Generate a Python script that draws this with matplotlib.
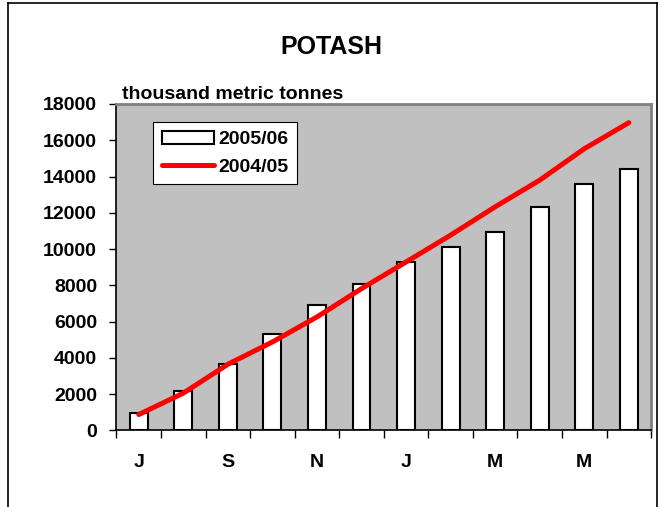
import numpy as np
import matplotlib.pyplot as plt
from matplotlib.lines import Line2D

months = ["J", "", "S", "", "N", "", "J", "", "M", "", "M", ""]
potash_0506 = [980, 2170, 3640, 5300, 6940, 8060, 9270, 10130, 10930, 12330, 13580, 14400]
potash_0405 = [880, 2060, 3650, 4880, 6260, 7820, 9290, 10770, 12330, 13800, 15530, 16970]

plt.rcParams['font.family'] = ['Liberation Sans', 'DejaVu Sans']
plt.rcParams['font.weight'] = 'bold'

fig = plt.figure(figsize=(6.63, 5.07), dpi=100)
ax = fig.add_axes([0.1757, 0.1509, 0.8063, 0.644])
ax.set_facecolor('#c0c0c0')

x = np.arange(len(months))
bars = ax.bar(x, potash_0506, width=0.4, color='white', edgecolor='black', linewidth=1.5, label='2005/06', zorder=2)
line, = ax.plot(x, potash_0405, color='#ff0000', linewidth=3.6, solid_capstyle='round', label='2004/05', zorder=3)

ax.set_xlim(-0.5, 11.5)
ax.set_ylim(0, 18000)
ax.set_yticks(np.arange(0, 18001, 2000))
ax.tick_params(axis='y', direction='out', length=5, width=1, pad=9, labelsize=14)

# month labels at bar centres, ticks at the category boundaries
ax.set_xticks(np.arange(-0.5, 12, 1))
ax.set_xticklabels([])
ax.set_xticks(x, minor=True)
ax.set_xticklabels(months, minor=True)
ax.tick_params(axis='x', which='major', direction='out', length=6, width=1)
ax.tick_params(axis='x', which='minor', length=0, pad=17, labelsize=14)

for s in ['top', 'right']:
    ax.spines[s].set_color('#808080')
    ax.spines[s].set_linewidth(2)
for s in ['left', 'bottom']:
    ax.spines[s].set_color('black')
    ax.spines[s].set_linewidth(1.2)

fig.text(0.5, 0.907, "POTASH", ha='center', va='center', fontsize=18, fontweight='bold')
fig.text(0.184, 0.797, "thousand metric tonnes", ha='left', va='bottom', fontsize=14, fontweight='bold')

leg = ax.legend([bars, line], ['2005/06', '2004/05'], loc='upper left', bbox_to_anchor=(0.068, 0.945),
                borderaxespad=0, fontsize=14, frameon=True, fancybox=False, edgecolor='black',
                framealpha=1, borderpad=0.45, handlelength=2.7, handletextpad=0.2, labelspacing=0.5)
leg.get_frame().set_linewidth(0.8)

# outer chart frame
fig.add_artist(Line2D([8/663, 8/663], [0, 1 - 3/507], transform=fig.transFigure, color='black', linewidth=1.2))
fig.add_artist(Line2D([657/663, 657/663], [0, 1 - 3/507], transform=fig.transFigure, color='black', linewidth=1.2))
fig.add_artist(Line2D([8/663, 657/663], [1 - 3/507, 1 - 3/507], transform=fig.transFigure, color='black', linewidth=1.2))

fig.savefig("out.png", dpi=100)
